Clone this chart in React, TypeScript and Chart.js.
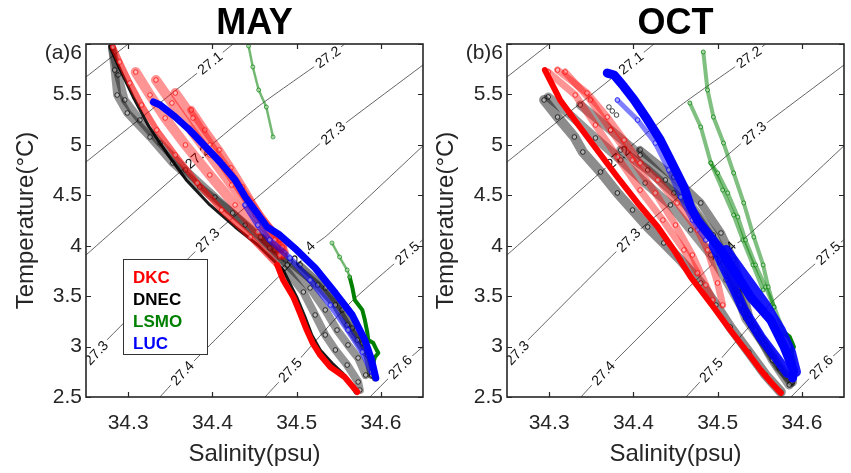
import React, { useEffect, useRef } from "react";
import { Chart, registerables } from "chart.js";
Chart.register(...registerables);

type P = [number, number];

const FONT = '"Liberation Sans", Arial, Helvetica, sans-serif';
const X_MIN = 34.25, X_MAX = 34.65, Y_MIN = 2.5, Y_MAX = 6;
const X_TICKS = [34.3, 34.4, 34.5, 34.6];
const Y_TICKS = [2.5, 3, 3.5, 4, 4.5, 5, 5.5, 6];

// ---- isopycnals (sigma-theta) ----
const SIG_270: P[] = [[34.25, 5.673], [34.30, 6.0]];
const SIG_271: P[] = [[34.25, 4.830], [34.397, 5.812], [34.4245, 6.0]];
const SIG_272: P[] = [[34.25, 3.908], [34.382, 4.880], [34.456, 5.39], [34.537, 5.871], [34.557, 6.0]];
const SIG_273: P[] = [[34.25, 2.85], [34.263, 2.966], [34.394, 4.057], [34.468, 4.584], [34.543, 5.118], [34.65, 5.792]];
const SIG_274: P[] = [[34.3378, 2.5], [34.364, 2.738], [34.5076, 3.928], [34.5357, 4.10], [34.65, 4.99]];
const SIG_275: P[] = [[34.4625, 2.5], [34.492, 2.768], [34.5634, 3.432], [34.631, 3.93], [34.65, 4.06]];
const SIG_276: P[] = [[34.587, 2.5], [34.6227, 2.798], [34.65, 3.0]];
const ISO_LEVELS = ["27", "27.1", "27.2", "27.3", "27.4", "27.5", "27.6"];
const CONTOUR_LABELS: [string, number, number][] = [
  ["27.1", 34.397, 5.812],
  ["27.2", 34.537, 5.871],
  ["27.2", 34.382, 4.88],
  ["27.3", 34.543, 5.118],
  ["27.3", 34.394, 4.057],
  ["27.3", 34.262, 2.94],
  ["27.4", 34.5076, 3.928],
  ["27.4", 34.364, 2.738],
  ["27.5", 34.631, 3.928],
  ["27.5", 34.492, 2.768],
  ["27.6", 34.6227, 2.798],
];

// ---- MAY profiles ----
const MAY_DKC_A: P[] = [[34.282, 5.97], [34.29, 5.822], [34.302, 5.613], [34.316, 5.395], [34.334, 5.147], [34.356, 4.899], [34.382, 4.622], [34.411, 4.354], [34.445, 4.086], [34.477, 3.809]];
const MAY_DKC_B: P[] = [[34.309, 5.722], [34.326, 5.494], [34.344, 5.266], [34.368, 4.999], [34.397, 4.701], [34.427, 4.404], [34.454, 4.136], [34.48, 3.908]];
const MAY_DKC_C: P[] = [[34.333, 5.643], [34.352, 5.415], [34.373, 5.167], [34.397, 4.899], [34.423, 4.602], [34.451, 4.305], [34.474, 4.057], [34.484, 3.908]];
const MAY_DKC_D: P[] = [[34.356, 5.514], [34.377, 5.266], [34.397, 4.999], [34.419, 4.731], [34.442, 4.453], [34.466, 4.176], [34.483, 3.987]];
const MAY_DKC_E: P[] = [[34.375, 5.346], [34.391, 5.147], [34.408, 4.949], [34.422, 4.771], [34.436, 4.582], [34.457, 4.285], [34.48, 4.057], [34.486, 3.938]];
const MAY_DKC_LOW: P[] = [[34.477, 3.809], [34.484, 3.66], [34.496, 3.492], [34.504, 3.333], [34.512, 3.164], [34.519, 3.035], [34.528, 2.916], [34.54, 2.797], [34.557, 2.698], [34.572, 2.55]];

const MAY_DNEC_A: P[] = [[34.281, 5.96], [34.284, 5.742], [34.287, 5.494], [34.299, 5.316], [34.326, 5.078], [34.353, 4.82], [34.385, 4.582], [34.424, 4.324], [34.457, 4.086], [34.48, 3.888], [34.489, 3.809], [34.516, 3.581], [34.534, 3.363], [34.548, 3.164], [34.561, 3.016], [34.573, 2.887], [34.582, 2.718]];
const MAY_DNEC_B: P[] = [[34.281, 5.96], [34.288, 5.693], [34.296, 5.445], [34.314, 5.246], [34.338, 5.018], [34.368, 4.751], [34.403, 4.483], [34.439, 4.205], [34.468, 3.977], [34.486, 3.779], [34.508, 3.541], [34.522, 3.313], [34.534, 3.115], [34.546, 2.966], [34.56, 2.817], [34.573, 2.649], [34.575, 2.569]];
const MAY_DNEC_C: P[] = [[34.278, 5.98], [34.289, 5.772], [34.306, 5.475], [34.325, 5.177], [34.349, 4.88], [34.369, 4.652], [34.397, 4.404], [34.427, 4.186], [34.454, 4.007], [34.484, 3.759], [34.5, 3.492], [34.51, 3.293], [34.518, 3.115], [34.528, 2.966], [34.542, 2.837], [34.557, 2.718], [34.57, 2.54]];
const MAY_DNEC_D: P[] = [[34.459, 4.077], [34.474, 3.958], [34.492, 3.839], [34.525, 3.61], [34.546, 3.412], [34.56, 3.214], [34.572, 3.065], [34.584, 2.916], [34.589, 2.718]];
const MAY_DNEC_E: P[] = [[34.504, 3.809], [34.534, 3.581], [34.554, 3.363], [34.566, 3.184], [34.578, 3.035], [34.587, 2.897], [34.593, 2.688]];

const MAY_LUC_A: P[] = [[34.33, 5.425], [34.338, 5.395], [34.356, 5.276], [34.373, 5.147], [34.391, 4.989], [34.409, 4.83], [34.427, 4.652], [34.439, 4.483], [34.453, 4.324], [34.465, 4.186], [34.48, 4.106], [34.5, 3.958], [34.522, 3.779], [34.546, 3.531], [34.566, 3.313], [34.581, 3.065], [34.589, 2.867], [34.594, 2.688]];
const MAY_LUC_B: P[] = [[34.439, 4.404], [34.454, 4.205], [34.468, 4.057], [34.492, 3.878], [34.516, 3.66], [34.54, 3.412], [34.561, 3.164], [34.578, 2.946], [34.589, 2.748]];

const MAY_LSMO_TOP: P[] = [[34.443, 5.98], [34.448, 5.772], [34.455, 5.544], [34.464, 5.375], [34.472, 5.078]];
const MAY_LSMO_MID: P[] = [[34.542, 4.027], [34.551, 3.888], [34.56, 3.759], [34.563, 3.69]];
const MAY_LSMO_LOW: P[] = [[34.563, 3.69], [34.566, 3.591], [34.569, 3.462], [34.578, 3.363], [34.581, 3.263], [34.584, 3.135], [34.585, 3.065], [34.591, 3.035], [34.595, 2.966], [34.597, 2.936], [34.593, 2.897], [34.591, 2.837]];

// ---- OCT profiles ----
const OCT_DKC_MAIN: P[] = [[34.295, 5.742], [34.313, 5.445], [34.333, 5.217], [34.357, 4.949], [34.381, 4.681], [34.405, 4.424], [34.429, 4.186], [34.448, 3.958], [34.468, 3.69], [34.495, 3.392], [34.515, 3.164], [34.536, 2.936], [34.551, 2.768], [34.563, 2.649], [34.575, 2.54]];
const OCT_DKC_B: P[] = [[34.299, 5.722], [34.331, 5.494], [34.355, 5.197], [34.381, 4.88], [34.408, 4.552], [34.435, 4.255], [34.46, 3.958], [34.476, 3.729]];
const OCT_DKC_C: P[] = [[34.31, 5.742], [34.345, 5.514], [34.369, 5.276], [34.389, 5.048], [34.408, 4.82], [34.429, 4.652], [34.452, 4.424], [34.476, 4.156], [34.488, 3.958], [34.5, 3.63], [34.506, 3.412]];
const OCT_DKC_D: P[] = [[34.319, 5.722], [34.349, 5.445], [34.373, 5.147], [34.399, 4.85], [34.426, 4.523], [34.45, 4.205], [34.47, 3.908], [34.486, 3.61], [34.494, 3.462]];

const OCT_DNEC_A: P[] = [[34.294, 5.445], [34.31, 5.276], [34.33, 5.078], [34.34, 4.929], [34.361, 4.731], [34.381, 4.523], [34.399, 4.354], [34.417, 4.186], [34.436, 4.027], [34.456, 3.858], [34.48, 3.63], [34.498, 3.412], [34.515, 3.194], [34.537, 2.946], [34.557, 2.718], [34.575, 2.55]];
const OCT_DNEC_B: P[] = [[34.299, 5.475], [34.325, 5.296], [34.355, 5.068], [34.385, 4.85], [34.414, 4.622], [34.444, 4.404], [34.468, 4.156], [34.492, 3.908], [34.51, 3.66], [34.527, 3.412], [34.545, 3.164], [34.565, 2.867], [34.585, 2.619]];
const OCT_DNEC_C: P[] = [[34.337, 5.395], [34.373, 5.147], [34.408, 4.899], [34.438, 4.652], [34.468, 4.404], [34.495, 4.106], [34.513, 3.809], [34.525, 3.511], [34.537, 3.263], [34.557, 3.016], [34.575, 2.788], [34.587, 2.639]];
const OCT_DNEC_D: P[] = [[34.385, 4.949], [34.417, 4.751], [34.448, 4.523], [34.476, 4.285], [34.495, 4.057], [34.507, 3.858], [34.521, 3.561], [34.533, 3.283], [34.554, 3.035], [34.573, 2.788], [34.589, 2.649]];
const OCT_DNEC_E: P[] = [[34.408, 4.949], [34.448, 4.681], [34.48, 4.424], [34.504, 4.126], [34.519, 3.858], [34.53, 3.561], [34.537, 3.313]];
const OCT_DNEC_DOTS: P[] = [[34.371, 5.375], [34.375, 5.336], [34.38, 5.296]];

const OCT_LUC_A: P[] = [[34.369, 5.712], [34.377, 5.693], [34.389, 5.574], [34.401, 5.445], [34.417, 5.246], [34.432, 5.048], [34.444, 4.85], [34.46, 4.582], [34.468, 4.384], [34.476, 4.255], [34.488, 4.126], [34.504, 3.958], [34.519, 3.759], [34.539, 3.492], [34.563, 3.263], [34.579, 2.996], [34.59, 2.768], [34.589, 2.688]];
const OCT_LUC_B: P[] = [[34.381, 5.445], [34.405, 5.246], [34.426, 5.018], [34.442, 4.751], [34.456, 4.483], [34.47, 4.255], [34.486, 4.057]];
const OCT_LUC_C: P[] = [[34.495, 4.007], [34.512, 3.71], [34.531, 3.363], [34.551, 3.095], [34.569, 2.897], [34.583, 2.738]];
const OCT_LUC_D: P[] = [[34.51, 3.958], [34.533, 3.69], [34.557, 3.412], [34.575, 3.164], [34.587, 2.946], [34.593, 2.748]];

const OCT_LSMO_A: P[] = [[34.483, 5.921], [34.488, 5.544], [34.495, 5.276], [34.507, 5.018], [34.519, 4.721], [34.531, 4.424], [34.543, 4.086], [34.554, 3.809], [34.56, 3.591], [34.567, 3.392], [34.579, 3.135]];
const OCT_LSMO_B: P[] = [[34.467, 5.415], [34.48, 5.177], [34.492, 4.82], [34.5, 4.721], [34.512, 4.523], [34.524, 4.285], [34.533, 4.057], [34.545, 3.809], [34.557, 3.591], [34.567, 3.392]];
const OCT_LSMO_C: P[] = [[34.492, 4.82], [34.506, 4.552], [34.519, 4.305], [34.53, 4.057], [34.542, 3.809], [34.554, 3.561]];
const OCT_LSMO_LOW: P[] = [[34.579, 3.135], [34.585, 3.095], [34.59, 2.996], [34.587, 2.946], [34.59, 2.837]];

const LEGEND_NAMES = ["DKC", "DNEC", "LSMO", "LUC"];
const LEGEND_COLORS = ["#ff0000", "#000000", "#008000", "#0000ff"];

const ISOPYCNALS: { level: string; pts: P[] }[] = [SIG_270, SIG_271, SIG_272, SIG_273, SIG_274, SIG_275, SIG_276].map((pts, i) => ({ level: ISO_LEVELS[i], pts }));

const RED = "255,0,0", BLACK = "0,0,0", GREEN = "0,128,0", BLUE = "0,0,255";

function band(pts: P[], rgb: string, order: number, w = 6, a = 0.4, r = 2.3) {
  return {
    data: pts.map(([x, y]) => ({ x, y })),
    showLine: true,
    borderColor: `rgba(${rgb},${a})`,
    borderWidth: w,
    pointRadius: r,
    pointBorderWidth: 0.9,
    pointBorderColor: `rgba(${rgb},0.8)`,
    pointBackgroundColor: "rgba(255,255,255,0.35)",
    tension: 0,
    borderCapStyle: "round",
    borderJoinStyle: "round",
    order,
  };
}
function solid(pts: P[], color: string, order: number, w = 5) {
  return {
    data: pts.map(([x, y]) => ({ x, y })),
    showLine: true,
    borderColor: color,
    borderWidth: w,
    pointRadius: 0,
    tension: 0,
    borderCapStyle: "round",
    borderJoinStyle: "round",
    order,
  };
}
function contourSets() {
  return ISOPYCNALS.map((c) => ({
    data: c.pts.map(([x, y]) => ({ x, y })),
    showLine: true,
    borderColor: "#3c3c3c",
    borderWidth: 0.8,
    pointRadius: 0,
    tension: 0.2,
    order: 10,
  }));
}

function mayDatasets() {
  return [
    solid(MAY_LUC_A, "#0000ff", 1, 7),
    band(MAY_LUC_B, BLUE, 1, 6, 0.55),
    solid(MAY_DKC_LOW, "#ff0000", 2, 6),
    band(MAY_DKC_A, RED, 2, 6, 0.6),
    band(MAY_DKC_B, RED, 2, 10, 0.42),
    band(MAY_DKC_C, RED, 2, 10, 0.42),
    band(MAY_DKC_D, RED, 2, 10, 0.42),
    band(MAY_DKC_E, RED, 2, 8, 0.45),
    solid(MAY_DNEC_C, "rgba(0,0,0,0.9)", 3, 3),
    band(MAY_DNEC_A, BLACK, 3, 8, 0.42),
    band(MAY_DNEC_B, BLACK, 3, 8, 0.42),
    band(MAY_DNEC_D, BLACK, 3, 8, 0.5),
    band(MAY_DNEC_E, BLACK, 3, 7, 0.5),
    band(MAY_LSMO_TOP, GREEN, 4, 2.5, 0.55, 2),
    band(MAY_LSMO_MID, GREEN, 4, 2.5, 0.55, 2),
    solid(MAY_LSMO_LOW, "#008000", 4, 4),
  ];
}
function octDatasets() {
  return [
    solid(OCT_LUC_A, "#0000ff", 1, 9),
    band(OCT_LUC_B, BLUE, 1, 5, 0.5),
    solid(OCT_LUC_C, "rgba(0,0,255,0.9)", 1, 10),
    solid(OCT_LUC_D, "rgba(0,0,255,0.9)", 1, 10),
    solid(OCT_DKC_MAIN, "#ff0000", 2, 6),
    band(OCT_DKC_B, RED, 2, 7, 0.42),
    band(OCT_DKC_C, RED, 2, 7, 0.42),
    band(OCT_DKC_D, RED, 2, 7, 0.42),
    band(OCT_DNEC_A, BLACK, 3, 10, 0.45),
    band(OCT_DNEC_B, BLACK, 3, 9, 0.4),
    band(OCT_DNEC_C, BLACK, 3, 9, 0.4),
    band(OCT_DNEC_D, BLACK, 3, 9, 0.4),
    band(OCT_DNEC_E, BLACK, 3, 8, 0.45),
    band(OCT_DNEC_DOTS, BLACK, 3, 0.01, 0),
    band(OCT_LSMO_A, GREEN, 4, 4, 0.5, 2),
    band(OCT_LSMO_B, GREEN, 4, 4, 0.5, 2),
    band(OCT_LSMO_C, GREEN, 4, 4, 0.5, 2),
    solid(OCT_LSMO_LOW, "#008000", 4, 5),
  ];
}

function drawContourLabels(chart: any) {
  const { ctx, chartArea: a } = chart;
  const xs = chart.scales.x, ys = chart.scales.y;
  ctx.save();
  ctx.beginPath();
  ctx.rect(a.left, a.top, a.right - a.left, a.bottom - a.top);
  ctx.clip();
  ctx.font = `14px ${FONT}`;
  for (const [txt, s, t] of CONTOUR_LABELS) {
    const line = ISOPYCNALS.find((l) => l.level === txt)!.pts;
    let p0 = line[0], p1 = line[1];
    for (let i = 0; i < line.length - 1; i++) {
      if (s >= line[i][0] && s <= line[i + 1][0]) { p0 = line[i]; p1 = line[i + 1]; break; }
    }
    const ang = Math.atan2(ys.getPixelForValue(p1[1]) - ys.getPixelForValue(p0[1]), xs.getPixelForValue(p1[0]) - xs.getPixelForValue(p0[0]));
    const px = xs.getPixelForValue(s), py = ys.getPixelForValue(t);
    ctx.save();
    ctx.translate(px, py);
    ctx.rotate(ang);
    const w = ctx.measureText(txt).width;
    ctx.fillStyle = "#ffffff";
    ctx.fillRect(-w / 2 - 3, -7, w + 6, 14);
    ctx.fillStyle = "#111111";
    ctx.textAlign = "center";
    ctx.textBaseline = "middle";
    ctx.fillText(txt, 0, 1);
    ctx.restore();
  }
  ctx.restore();
}

const panelPlugin = {
  id: "panel",
  afterDatasetDraw(chart: any, args: any, opts: any) {
    if (args.index === opts.labelAfter) drawContourLabels(chart);
  },
  afterDraw(chart: any, _args: any, opts: any) {
    const { ctx, chartArea: a } = chart;
    const xs = chart.scales.x, ys = chart.scales.y;
    ctx.save();
    ctx.strokeStyle = "#262626";
    ctx.lineWidth = 1.6;
    ctx.strokeRect(a.left, a.top, a.right - a.left, a.bottom - a.top);
    ctx.lineWidth = 1.2;
    ctx.beginPath();
    for (const v of X_TICKS) {
      const px = Math.round(xs.getPixelForValue(v)) + 0.5;
      ctx.moveTo(px, a.bottom); ctx.lineTo(px, a.bottom - 5);
      ctx.moveTo(px, a.top); ctx.lineTo(px, a.top + 5);
    }
    for (const v of Y_TICKS) {
      const py = Math.round(ys.getPixelForValue(v)) + 0.5;
      ctx.moveTo(a.left, py); ctx.lineTo(a.left + 5, py);
      ctx.moveTo(a.right, py); ctx.lineTo(a.right - 5, py);
    }
    ctx.stroke();
    ctx.fillStyle = "#000";
    ctx.font = `bold 36px ${FONT}`;
    ctx.textAlign = "center";
    ctx.textBaseline = "middle";
    ctx.fillText(opts.title, (a.left + a.right) / 2, 24);
    ctx.fillStyle = "#262626";
    ctx.font = `21px ${FONT}`;
    ctx.textAlign = "right";
    ctx.fillText(opts.tag + String(Y_MAX), a.left - 4, a.top + 9);
    if (opts.legend) {
      const bx = a.left + 37, by = 259, bw = 84, bh = 95;
      ctx.fillStyle = "#fff";
      ctx.fillRect(bx, by, bw, bh);
      ctx.strokeStyle = "#333";
      ctx.lineWidth = 1;
      ctx.strokeRect(bx + 0.5, by + 0.5, bw, bh);
      ctx.font = `bold 17px ${FONT}`;
      ctx.textAlign = "left";
      ctx.textBaseline = "middle";
      LEGEND_NAMES.forEach((n, i) => {
        ctx.fillStyle = LEGEND_COLORS[i];
        ctx.fillText(n, bx + 10, by + 19 + i * 22);
      });
    }
    ctx.restore();
  },
};

function Panel(props: { left: number; width: number; yWidth: number; yTitlePad: number; title: string; tag: string; legend: boolean; datasets: any[] }) {
  const ref = useRef<HTMLCanvasElement>(null);
  useEffect(() => {
    const data = props.datasets;
    const contours = contourSets();
    const chart = new Chart(ref.current!, {
      type: "scatter",
      data: { datasets: [...data, ...contours] as any },
      options: {
        animation: false,
        responsive: false,
        events: [],
        layout: { padding: { top: 44, right: props.width - props.yWidth - 337, left: 0, bottom: 0 } },
        plugins: {
          legend: { display: false },
          tooltip: { enabled: false },
          panel: { title: props.title, tag: props.tag, legend: props.legend, labelAfter: data.length },
        } as any,
        scales: {
          x: {
            type: "linear",
            min: X_MIN,
            max: X_MAX,
            afterBuildTicks: (s: any) => { s.ticks = X_TICKS.map((v) => ({ value: v })); },
            afterFit: (s: any) => { s.height = 76; },
            grid: { display: false, drawTicks: false },
            border: { display: false },
            ticks: { padding: 14, color: "#262626", font: { family: FONT, size: 21 }, autoSkip: false, maxRotation: 0, callback: (v: any) => String(v) },
            title: { display: true, text: "Salinity(psu)", color: "#262626", font: { family: FONT, size: 24 }, padding: { top: 0, bottom: 4 } },
          },
          y: {
            type: "linear",
            min: Y_MIN,
            max: Y_MAX,
            afterBuildTicks: (s: any) => { s.ticks = Y_TICKS.map((v) => ({ value: v })); },
            afterFit: (s: any) => { s.width = props.yWidth; },
            grid: { display: false, drawTicks: false },
            border: { display: false },
            ticks: { padding: 4, color: "#262626", font: { family: FONT, size: 21 }, autoSkip: false, callback: (v: any) => (v === Y_MAX ? "" : String(v)) },
            title: { display: true, text: "Temperature(°C)", color: "#262626", font: { family: FONT, size: 24 }, padding: { top: props.yTitlePad, bottom: 0 } },
          },
        },
      },
      plugins: [panelPlugin as any],
    });
    return () => chart.destroy();
  }, []);
  return (
    <canvas
      ref={ref}
      width={props.width}
      height={473}
      style={{ position: "absolute", left: props.left, top: 0, width: props.width, height: 473, display: "block" }}
    />
  );
}

export default function App() {
  return (
    <div style={{ position: "fixed", left: 0, top: 0, width: 851, height: 473, background: "#fff", overflow: "hidden" }}>
      <Panel left={0} width={430} yWidth={86} yTitlePad={12} title="MAY" tag="(a)" legend={true} datasets={mayDatasets()} />
      <Panel left={430} width={421} yWidth={77} yTitlePad={2} title="OCT" tag="(b)" legend={false} datasets={octDatasets()} />
    </div>
  );
}
